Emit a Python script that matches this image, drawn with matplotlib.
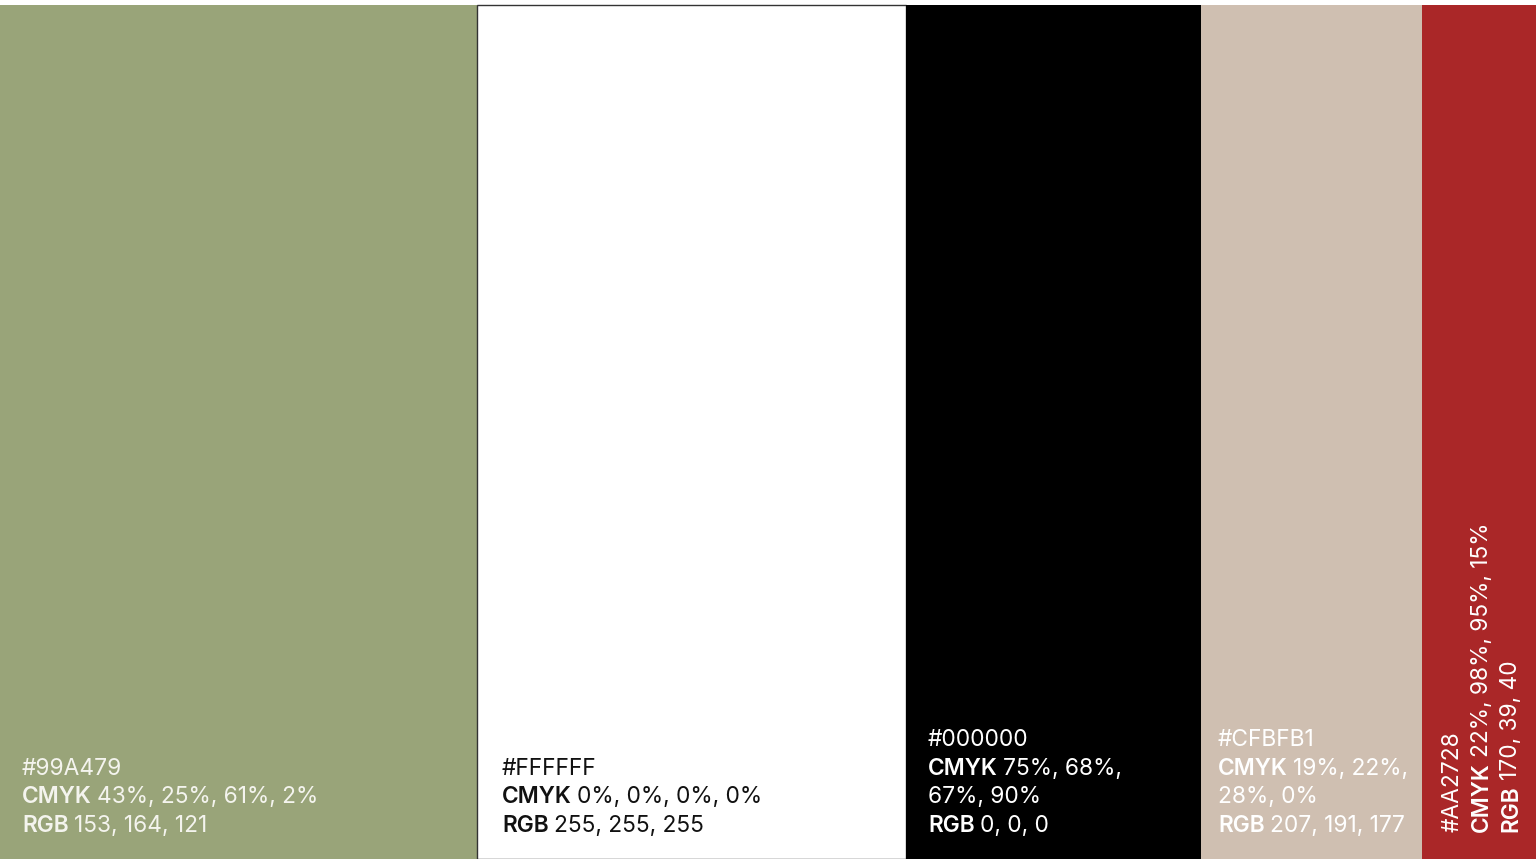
import matplotlib
matplotlib.use("Agg")
import matplotlib.pyplot as plt
import numpy as np

# ---- data ----
swatch_colors = ["#99A479", "#FFFFFF", "#000000", "#CFBFB1", "#AA2728"]
swatch_widths = [477, 429, 295, 221, 114]
hex_labels = ["#99A479", "#FFFFFF", "#000000", "#CFBFB1", "#AA2728"]
cmyk_values = [["43%, 25%, 61%, 2%"],
               ["0%, 0%, 0%, 0%"],
               ["75%, 68%,", "67%, 90%"],
               ["19%, 22%,", "28%, 0%"],
               ["22%, 98%, 95%, 15%"]]
rgb_values = ["153, 164, 121", "255, 255, 255", "0, 0, 0", "207, 191, 177", "170, 39, 40"]
text_colors = ["#F4F4EE", "#111111", "#FFFFFF", "#FFFFFF", "#FFFFFF"]
rotated = [False, False, False, False, True]

W, H = 1536, 859
fig = plt.figure(figsize=(W / 100, H / 100), dpi=100)
ax = fig.add_axes([0, 0, 1, 1])
ax.set_xlim(0, W)
ax.set_ylim(H, 0)
ax.axis("off")

FONT = "Inter"
FS = 16.4
VAL_W = "normal"
LAB_W = "semibold"
top = 5
lefts = np.concatenate([[0], np.cumsum(swatch_widths)[:-1]])
edge = ["none", "#333333", "none", "none", "none"]
ax.bar(lefts, [H - top] * len(lefts), bottom=top, width=swatch_widths,
       align="edge", color=swatch_colors, edgecolor=edge, linewidth=1.0)

pads = [22, 25, 22, 17, 0]
bottom_base = 832
step = 28.7
space_pts = 3.5

for i in range(len(swatch_colors)):
    col = text_colors[i]
    x0 = lefts[i] + pads[i]
    if not rotated[i]:
        cm = cmyk_values[i]
        n_lines = 2 + len(cm)
        ys = [bottom_base - step * (n_lines - 1 - k) for k in range(n_lines)]
        ax.text(x0, ys[0], hex_labels[i], fontsize=FS, family=FONT, weight=VAL_W,
                color=col, ha="left", va="baseline")
        lab = ax.text(x0, ys[1], "CMYK", fontsize=FS, family=FONT, weight=LAB_W,
                      color=col, ha="left", va="baseline")
        ax.annotate(cm[0], xy=(1, ys[1]), xycoords=(lab, "data"),
                    xytext=(space_pts, 0), textcoords="offset points",
                    fontsize=FS, family=FONT, weight=VAL_W, color=col,
                    ha="left", va="baseline")
        for k in range(1, len(cm)):
            ax.text(x0, ys[1 + k], cm[k], fontsize=FS, family=FONT, weight=VAL_W,
                    color=col, ha="left", va="baseline")
        lab2 = ax.text(x0, ys[-1], "RGB", fontsize=FS, family=FONT, weight=LAB_W,
                       color=col, ha="left", va="baseline")
        ax.annotate(rgb_values[i], xy=(1, ys[-1]), xycoords=(lab2, "data"),
                    xytext=(space_pts, 0), textcoords="offset points",
                    fontsize=FS, family=FONT, weight=VAL_W, color=col,
                    ha="left", va="baseline")
    else:
        xs = [1459, 1488, 1517]
        y0 = bottom_base
        ax.text(xs[0], y0, hex_labels[i], fontsize=FS, family=FONT, weight=VAL_W,
                color=col, rotation=90, rotation_mode="anchor",
                ha="left", va="baseline")
        lab = ax.text(xs[1], y0, "CMYK", fontsize=FS, family=FONT, weight=LAB_W,
                      color=col, rotation=90, rotation_mode="anchor",
                      ha="left", va="baseline")
        ax.annotate(" ".join(cmyk_values[i]), xy=(xs[1], 1), xycoords=("data", lab),
                    xytext=(0, space_pts), textcoords="offset points",
                    fontsize=FS, family=FONT, weight=VAL_W, color=col,
                    rotation=90, rotation_mode="anchor", ha="left", va="baseline")
        lab2 = ax.text(xs[2], y0, "RGB", fontsize=FS, family=FONT, weight=LAB_W,
                       color=col, rotation=90, rotation_mode="anchor",
                       ha="left", va="baseline")
        ax.annotate(rgb_values[i], xy=(xs[2], 1), xycoords=("data", lab2),
                    xytext=(0, space_pts), textcoords="offset points",
                    fontsize=FS, family=FONT, weight=VAL_W, color=col,
                    rotation=90, rotation_mode="anchor", ha="left", va="baseline")

fig.savefig("out.png", dpi=100, facecolor="white")
